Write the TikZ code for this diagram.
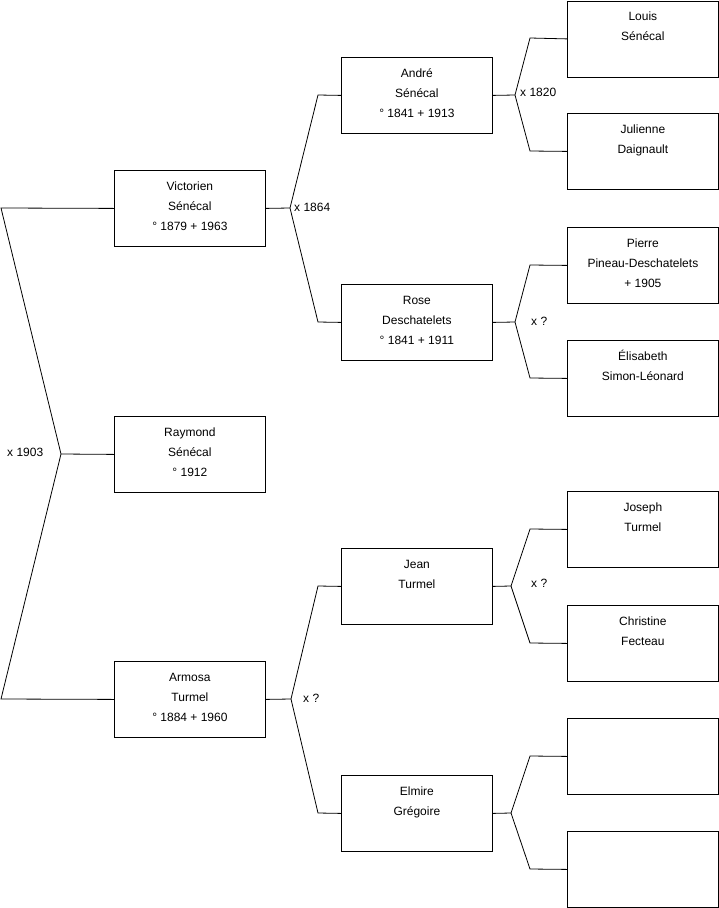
\documentclass[tikz,border=0pt]{standalone}
\usepackage{fontspec}
\setmainfont{Liberation Sans}
\newcommand\boxtxt[1]{\parbox[c][76pt][t]{151pt}{\centering\rule{0pt}{20pt}#1}}
\begin{document}
\begin{tikzpicture}[x=1pt,y=-1pt,
  person/.style={draw, line width=0.8pt, rectangle, inner sep=0pt, anchor=north west, font=\fontsize{12}{20}\selectfont},
  link/.style={line width=0.8pt},
  lbl/.style={anchor=west, inner sep=0pt, font=\fontsize{12}{14}\selectfont}]
\useasboundingbox (0,0) rectangle (719,908);
% generation 1
\node[person] (vic) at (114,170) {\boxtxt{Victorien\\Sénécal\\° 1879 + 1963}};
\node[person] (ray) at (114,416) {\boxtxt{Raymond\\Sénécal\\° 1912}};
\node[person] (arm) at (114,661) {\boxtxt{Armosa\\Turmel\\° 1884 + 1960}};
% generation 2
\node[person] (and) at (341,57) {\boxtxt{André\\Sénécal\\° 1841 + 1913}};
\node[person] (rose) at (341,284) {\boxtxt{Rose\\Deschatelets\\° 1841 + 1911}};
\node[person] (jean) at (341,548) {\boxtxt{Jean\\Turmel}};
\node[person] (elm) at (341,775) {\boxtxt{Elmire\\Grégoire}};
% generation 3
\node[person] (lou) at (567,0.5) {\boxtxt{Louis\\Sénécal}};
\node[person] (jul) at (567,113) {\boxtxt{Julienne\\Daignault}};
\node[person] (pie) at (567,227) {\boxtxt{Pierre\\Pineau-Deschatelets\\+ 1905}};
\node[person] (eli) at (567,340) {\boxtxt{Élisabeth\\Simon-Léonard}};
\node[person] (jos) at (567,491) {\boxtxt{Joseph\\Turmel}};
\node[person] (chr) at (567,605) {\boxtxt{Christine\\Fecteau}};
\node[person] (em1) at (567,718) {\boxtxt{}};
\node[person] (em2) at (567,831) {\boxtxt{}};
% left bracket
\coordinate (j0) at (61,454);
\coordinate (l0a) at (1,208);
\coordinate (l0b) at (1,699);
\draw[link] (vic.west) -- (l0a) -- (j0) -- (l0b) -- (arm.west);
\draw[link] (j0) -- (ray.west);
\node[lbl] (t0) at (7,452) {x 1903};
% Victorien
\coordinate (j1) at (290,208);
\coordinate (j1a) at (318,95);
\coordinate (j1b) at (318,322);
\draw[link] (vic.east) -- (j1);
\draw[link] (and.west) -- (j1a) -- (j1) -- (j1b) -- (rose.west);
\node[lbl] (t1) at (294,207) {x 1864};
% Armosa
\coordinate (j2) at (291,699);
\coordinate (j2a) at (318,586);
\coordinate (j2b) at (318,813);
\draw[link] (arm.east) -- (j2);
\draw[link] (jean.west) -- (j2a) -- (j2) -- (j2b) -- (elm.west);
\node[lbl] (t2) at (303,698) {x ?};
% André
\coordinate (j3) at (515,95);
\coordinate (j3a) at (530,38);
\coordinate (j3b) at (530,151);
\draw[link] (and.east) -- (j3);
\draw[link] (lou.west) -- (j3a) -- (j3) -- (j3b) -- (jul.west);
\node[lbl] (t3) at (520,92) {x 1820};
% Rose
\coordinate (j4) at (515,322);
\coordinate (j4a) at (530,265);
\coordinate (j4b) at (530,378);
\draw[link] (rose.east) -- (j4);
\draw[link] (pie.west) -- (j4a) -- (j4) -- (j4b) -- (eli.west);
\node[lbl] (t4) at (531,321) {x ?};
% Jean
\coordinate (j5) at (511,586);
\coordinate (j5a) at (530,529);
\coordinate (j5b) at (530,643);
\draw[link] (jean.east) -- (j5);
\draw[link] (jos.west) -- (j5a) -- (j5) -- (j5b) -- (chr.west);
\node[lbl] (t5) at (531,583) {x ?};
% Elmire
\coordinate (j6) at (511,813);
\coordinate (j6a) at (530,756);
\coordinate (j6b) at (530,869);
\draw[link] (elm.east) -- (j6);
\draw[link] (em1.west) -- (j6a) -- (j6) -- (j6b) -- (em2.west);
\end{tikzpicture}
\end{document}
